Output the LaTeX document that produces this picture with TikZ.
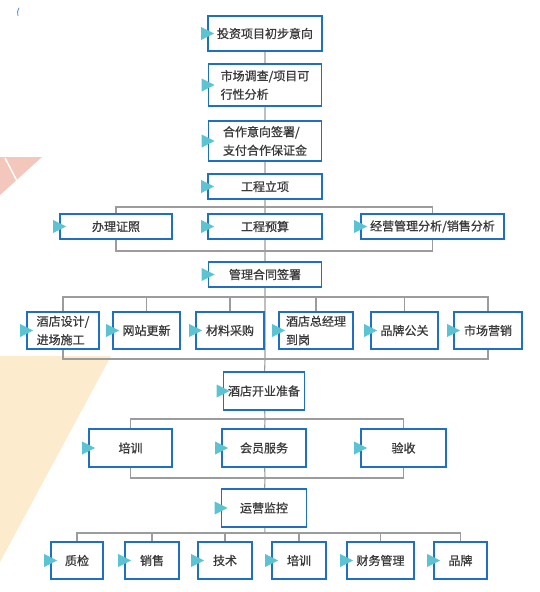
\documentclass[tikz,border=0pt]{standalone}
\usepackage{fontspec}
\newfontfamily\cjk[FakeBold=0.9]{Noto Sans CJK SC}
\usetikzlibrary{positioning}
\definecolor{boxblue}{HTML}{1F70C1}
\definecolor{tipcyan}{HTML}{5BC3D2}
\definecolor{linegray}{HTML}{9C9C9C}
\definecolor{textgray}{HTML}{3A3A3A}
\definecolor{decotan}{HTML}{FCEBCC}
\definecolor{decopink}{HTML}{F3C7BB}
\pgfdeclarelayer{background}
\pgfsetlayers{background,main}
\tikzset{
  stepbox/.style 2 args={rectangle, draw=boxblue, line width=1.6pt, fill=white,
                 minimum width=#1, minimum height=#2, inner sep=0pt,
                 align=center, text=textgray,
                 font=\cjk\fontsize{12}{18.5}\selectfont},
  link/.style={draw=linegray, line width=1.1pt},
  tip/.style={fill=tipcyan},
}

\begin{document}
\begin{tikzpicture}[x=1pt, y=-1pt]
  \useasboundingbox (0,0) rectangle (539,592);

  % main column
  \node[stepbox={114pt}{35pt}] (b1) at (265,33.5) {投资项目初步意向};
  \node[stepbox={113pt}{42pt}, align=left] (b2) at (265,85) {市场调查/项目可\\行性分析};
  \node[stepbox={113pt}{40pt}, align=left] (b3) at (265,141) {合作意向签署/\\支付合作保证金};
  \node[stepbox={114pt}{25pt}] (b4) at (265,186.5) {工程立项};
  \node[stepbox={113pt}{25pt}] (b5) at (265,274.5) {管理合同签署};
  \node[stepbox={81pt}{38pt}] (b6) at (264,391) {酒店开业准备};
  \node[stepbox={85pt}{38pt}] (b7) at (264,508) {运营监控};

  % first row
  \node[stepbox={112pt}{25pt}] (a1) at (116,226.5) {办理证照};
  \node[stepbox={114pt}{25pt}] (a2) at (265,226.5) {工程预算};
  \node[stepbox={143pt}{25pt}] (a3) at (432.5,226.5) {经营管理分析/销售分析};

  % second row
  \node[stepbox={72pt}{37pt}, align=left] (c1) at (63,330.5) {酒店设计/\\进场施工};
  \node[stepbox={67pt}{37pt}] (c2) at (146.5,330.5) {网站更新};
  \node[stepbox={68pt}{37pt}] (c3) at (230,330.5) {材料采购};
  \node[stepbox={74pt}{37pt}, align=left] (c4) at (316,330.5) {酒店总经理\\到岗};
  \node[stepbox={67pt}{37pt}] (c5) at (404.5,330.5) {品牌公关};
  \node[stepbox={68pt}{37pt}] (c6) at (488,330.5) {市场营销};

  % third row
  \node[stepbox={83pt}{38pt}] (d1) at (130.5,448) {培训};
  \node[stepbox={84pt}{38pt}] (d2) at (264,448) {会员服务};
  \node[stepbox={85pt}{38pt}] (d3) at (403.5,448) {验收};

  % last row
  \node[stepbox={52pt}{37pt}] (e1) at (77,560.5) {质检};
  \node[stepbox={54pt}{37pt}] (e2) at (152,560.5) {销售};
  \node[stepbox={54pt}{37pt}] (e3) at (225,560.5) {技术};
  \node[stepbox={54pt}{37pt}] (e4) at (299,560.5) {培训};
  \node[stepbox={67pt}{37pt}] (e5) at (380.5,560.5) {财务管理};
  \node[stepbox={53pt}{37pt}] (e6) at (460.5,560.5) {品牌};

  % bracket levels
  \coordinate (ja) at (265,207);
  \coordinate (ka) at (265,251);
  \coordinate (jb) at (265,297);
  \coordinate (kb) at (265,359);
  \coordinate (jc) at (265,419);
  \coordinate (kc) at (265,478);
  \coordinate (jd) at (265,533);

  \begin{pgfonlayer}{background}
    % backdrop
    \fill[decotan] (0,356) -- (111,356) -- (0,562) -- cycle;
    \fill[decopink] (0,157) -- (42,157) -- (0,195) -- cycle;
    \draw[white, line width=1.5pt] (5,158) -- (17,181);
    \draw[boxblue!80, line width=0.8pt] (18,16) arc[start angle=160, end angle=215, radius=9];

    % connectors
    \draw[link] (b1) -- (b2) -- (b3) -- (b4) -- (ja) -- (a2) -- (ka) -- (b5)
                -- (jb) -- (kb) -- (b6) -- (jc) -- (d2) -- (kc) -- (b7) -- (jd);
    \draw[link] (a1.north) |- (ja) -| (a3.north);
    \draw[link] (a1.south) |- (ka) -| (a3.south);
    \draw[link] (c1.north) |- (jb) -| (c6.north);
    \foreach \n in {c2,c3,c4,c5}
      \draw[link] (\n.north) -- (\n.north |- jb);
    \draw[link] (c1.south) |- (kb) -| (c6.south);
    \draw[link] (d1.north) |- (jc) -| (d3.north);
    \draw[link] (d1.south) |- (kc) -| (d3.south);
    \draw[link] (e1.north) |- (jd) -| (e6.north);
    \foreach \n in {e2,e3,e4,e5}
      \draw[link] (\n.north) -- (\n.north |- jd);
  \end{pgfonlayer}

  % markers on the left edges
  \foreach \n in {b1,b2,b3,b4,b5,b6,b7,a1,a2,a3,c1,c2,c3,c4,c5,c6,d1,d2,d3,e1,e2,e3,e4,e5,e6}
    \fill[tip] ([xshift=-6pt,yshift=6.5pt]\n.west) -- ([xshift=7pt]\n.west)
               -- ([xshift=-6pt,yshift=-6.5pt]\n.west) -- cycle;
\end{tikzpicture}
\end{document}
